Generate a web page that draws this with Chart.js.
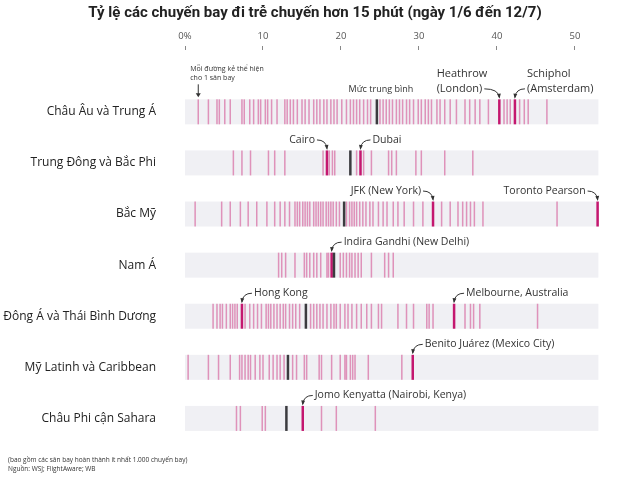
<!DOCTYPE html>
<html>
<head>
<meta charset="utf-8">
<script src="https://cdn.jsdelivr.net/npm/chart.js@4.4.0/dist/chart.umd.min.js"></script>
<style>
html, body { margin: 0; padding: 0; background: #fff; }
#wrap { position: relative; width: 630px; height: 482px; }
.note { position: absolute; left: 8px; font: 6.5px "Open Sans"; color: #333; white-space: nowrap; }
</style>
</head>
<body>
<div id="wrap">
  <canvas id="myChart" width="630" height="482"></canvas>
  <div class="note" style="top:455px">(bao gồm các sân bay hoàn thành ít nhất 1.000 chuyến bay)</div>
  <div class="note" style="top:464px">Nguồn: WSJ; FlightAware; WB</div>
</div>
<script>
const regions = [
    'Châu Âu và Trung Á',
    'Trung Đông và Bắc Phi',
    'Bắc Mỹ',
    'Nam Á',
    'Đông Á và Thái Bình Dương',
    'Mỹ Latinh và Caribbean',
    'Châu Phi cận Sahara',
]

// % chuyến bay trễ > 15 phút, mỗi số là 1 sân bay
const euValues = [1.7, 3.0, 4.1, 4.4, 5.1, 5.8, 7.3, 7.6, 8.3, 8.8, 9.4, 9.7, 10.3, 10.6, 11.1, 11.8, 12.8, 13.1, 13.5, 13.9, 14.4, 15.0, 15.4, 15.9, 16.5, 16.9, 17.3, 17.8, 18.2, 18.7, 19.1, 19.5, 20.1, 20.7, 21.2, 21.6, 22.0, 22.4, 22.9, 23.4, 23.8, 25.0, 25.4, 25.8, 26.2, 26.6, 27.1, 27.5, 27.9, 28.4, 28.8, 29.3, 29.9, 30.3, 30.8, 31.2, 31.6, 32.3, 32.7, 33.3, 34.0, 34.8, 35.9, 36.5, 37.2, 37.8, 38.9, 40.9, 41.3, 41.7, 42.9, 43.5, 44.0, 46.4]
const meValues = [6.2, 7.3, 8.4, 10.7, 11.5, 12.8, 17.7, 18.5, 18.9, 19.2, 22.0, 22.9, 23.9, 26.1, 26.5, 27.1, 29.6, 30.3, 33.3, 36.9]
const naValues = [1.3, 4.7, 5.8, 7.1, 8.1, 9.2, 10.5, 11.5, 12.2, 12.8, 13.4, 14.1, 14.4, 14.7, 15.1, 15.4, 15.7, 16.0, 16.5, 16.8, 17.1, 17.4, 17.7, 18.1, 18.4, 18.7, 19.0, 19.4, 19.8, 20.7, 21.1, 21.4, 21.7, 22.0, 22.4, 22.8, 23.2, 23.7, 24.1, 24.8, 25.4, 25.9, 26.7, 27.3, 28.1, 29.3, 30.5, 32.9, 34.0, 35.0, 35.6, 36.1, 36.6, 37.1, 38.2, 47.7]
const saValues = [12.0, 12.4, 12.9, 14.1, 15.3, 15.6, 16.0, 16.5, 16.9, 17.4, 18.2, 18.4, 19.9, 20.3, 20.7, 21.1, 21.4, 21.8, 22.2, 22.6, 23.9, 25.6, 26.1, 26.7]
const eaValues = [3.6, 4.1, 4.5, 4.8, 5.3, 5.8, 6.1, 6.4, 6.7, 7.7, 8.3, 8.8, 9.3, 9.8, 10.4, 10.7, 11.0, 11.4, 11.8, 12.2, 12.6, 12.9, 13.4, 13.8, 14.2, 14.7, 16.1, 16.5, 16.9, 17.3, 17.7, 18.2, 18.7, 19.1, 19.4, 19.9, 20.5, 20.9, 21.4, 22.0, 22.6, 23.3, 23.9, 24.8, 25.2, 27.3, 28.4, 29.3, 31.0, 31.3, 31.8, 35.9, 36.6, 37.0, 37.8, 45.2]
const laValues = [0.4, 3.0, 4.3, 5.8, 7.0, 7.3, 7.7, 8.1, 8.4, 9.0, 9.6, 10.0, 10.8, 11.3, 11.8, 12.2, 12.7, 13.8, 14.3, 15.3, 15.6, 17.2, 17.5, 18.8, 19.9, 20.5, 20.7, 21.2, 21.5, 21.8, 23.5, 27.8]
const afValues = [6.6, 7.1, 9.9, 10.3, 17.5, 19.4, 24.4]

const rowValues = [euValues, meValues, naValues, saValues, eaValues, laValues, afValues]
const meanValues = [24.6, 21.2, 20.4, 19.1, 15.5, 13.2, 13.0]

const hlRows = [0, 0, 1, 1, 2, 2, 3, 4, 4, 5, 6]
const hlValues = [40.3, 42.3, 18.2, 22.5, 31.8, 52.9, 18.8, 7.3, 34.5, 29.2, 15.1]
const hlNames = [
    ['Heathrow', '(London)'],
    ['Schiphol', '(Amsterdam)'],
    ['Cairo'],
    ['Dubai'],
    ['JFK (New York)'],
    ['Toronto Pearson'],
    ['Indira Gandhi (New Delhi)'],
    ['Hong Kong'],
    ['Melbourne, Australia'],
    ['Benito Juárez (Mexico City)'],
    ['Jomo Kenyatta (Nairobi, Kenya)'],
]
// chữ nằm bên trái hay bên phải mũi tên
const hlSide = ['left', 'right', 'left', 'right', 'left', 'left', 'right', 'right', 'right', 'right', 'right']

const xTicks = [0, 10, 20, 30, 40, 50]
const bandMax = 53

const airportPoints = []
rowValues.forEach((vals, i) => vals.forEach(v => airportPoints.push({x: v, y: i})))

const ROW_H = 25

// nền xám cho từng hàng
const bands = {
    id: 'bands',
    beforeDatasetsDraw(chart) {
        const {ctx, scales: {x, y}} = chart
        ctx.save()
        ctx.fillStyle = '#f0f0f4'
        const x0 = x.getPixelForValue(0)
        const x1 = x.getPixelForValue(bandMax)
        regions.forEach((r, i) => {
            const yc = y.getPixelForValue(i)
            ctx.fillRect(x0, yc - ROW_H / 2, x1 - x0, ROW_H)
        })
        ctx.restore()
    }
}

const arrow = (ctx, x0, y0, x1, y1, cx, cy) => {
    ctx.beginPath()
    ctx.moveTo(x0, y0)
    ctx.quadraticCurveTo(cx, cy, x1, y1)
    ctx.stroke()
    const a = Math.atan2(y1 - cy, x1 - cx)
    ctx.beginPath()
    ctx.moveTo(x1 + 1.5 * Math.cos(a), y1 + 1.5 * Math.sin(a))
    ctx.lineTo(x1 - 4 * Math.cos(a - 0.5), y1 - 4 * Math.sin(a - 0.5))
    ctx.lineTo(x1 - 4 * Math.cos(a + 0.5), y1 - 4 * Math.sin(a + 0.5))
    ctx.closePath()
    ctx.fill()
}

const annotations = {
    id: 'annotations',
    afterDatasetsDraw(chart) {
        const {ctx, scales: {x, y}} = chart
        ctx.save()
        ctx.strokeStyle = '#333'
        ctx.fillStyle = '#333'
        ctx.lineWidth = 1
        ctx.textBaseline = 'middle'

        // chú thích đầu tiên
        const fx = x.getPixelForValue(euValues[0])
        const ftop = y.getPixelForValue(0) - ROW_H / 2
        ctx.font = '7px "Open Sans"'
        ctx.textAlign = 'left'
        ctx.fillText('Mỗi đường kẻ thể hiện', fx - 8, ftop - 30)
        ctx.fillText('cho 1 sân bay', fx - 8, ftop - 21.5)
        ctx.beginPath()
        ctx.moveTo(fx, ftop - 15)
        ctx.lineTo(fx, ftop - 4)
        ctx.stroke()
        ctx.beginPath()
        ctx.moveTo(fx, ftop - 2)
        ctx.lineTo(fx - 2.5, ftop - 6)
        ctx.lineTo(fx + 2.5, ftop - 6)
        ctx.closePath()
        ctx.fill()

        ctx.font = '9px "Open Sans"'
        ctx.textAlign = 'center'
        ctx.fillText('Mức trung bình', x.getPixelForValue(meanValues[0]) + 4, ftop - 9.5)

        hlValues.forEach((v, i) => {
            const ax = x.getPixelForValue(v)
            const top = y.getPixelForValue(hlRows[i]) - ROW_H / 2
            const lines = hlNames[i]
            const ty = top - 10.5
            ctx.font = lines.length > 1 ? '11px "Open Sans"' : '10.5px "Open Sans"'
            const widths = lines.map(t => ctx.measureText(t).width)
            const last = widths[widths.length - 1]
            ctx.textAlign = 'left'
            let left
            if (hlSide[i] === 'left') {
                left = ax - 12 - (lines.length > 1 ? Math.max(...widths) : last)
            } else {
                left = ax + 12
            }
            lines.forEach((t, k) => ctx.fillText(t, left, ty - (lines.length - 1 - k) * 15))
            if (hlSide[i] === 'left') {
                arrow(ctx, left + last + 2, ty, ax, top - 2, ax - 1, ty)
            } else {
                arrow(ctx, left - 2, ty, ax, top - 2, ax + 1, ty)
            }
        })
        ctx.restore()
    }
}

const lineStyle = {
    type: 'scatter',
    pointStyle: 'line',
    rotation: 90,
    radius: ROW_H / 2,
    hoverRadius: ROW_H / 2,
    clip: false,
}

const data = {
    datasets: [
        {
            ...lineStyle,
            label: 'Sân bay',
            data: airportPoints,
            borderWidth: 1.5,
            borderColor: 'rgba(206, 52, 128, 0.5)',
            order: 3,
        },
        {
            ...lineStyle,
            label: 'Sân bay nổi bật',
            data: hlValues.map((v, i) => ({x: v, y: hlRows[i]})),
            borderWidth: 2.5,
            borderColor: '#c4176f',
            order: 2,
        },
        {
            ...lineStyle,
            label: 'Mức trung bình',
            data: meanValues.map((v, i) => ({x: v, y: i})),
            borderWidth: 2.5,
            borderColor: '#3b3b3f',
            order: 1,
        },
    ]
}

const config = {
    type: 'scatter',
    data: data,
    plugins: [bands, annotations],
    options: {
        responsive: false,
        animation: false,
        events: [],
        layout: {padding: {left: 0, right: 0, top: 0, bottom: 37}},
        plugins: {
            legend: {display: false},
            tooltip: {enabled: false},
            title: {
                display: true,
                text: 'Tỷ lệ các chuyến bay đi trễ chuyến hơn 15 phút (ngày 1/6 đến 12/7)',
                color: '#222',
                font: {family: 'Roboto', size: 15, weight: 'bold'},
                padding: {top: 4, bottom: 0},
            },
        },
        scales: {
            x: {
                type: 'linear',
                position: 'top',
                min: 0,
                max: 55.13,
                afterBuildTicks: s => { s.ticks = xTicks.map(v => ({value: v})) },
                afterFit: s => { s.height = 28 },
                ticks: {
                    padding: 4,
                    color: '#555',
                    font: {family: 'Open Sans', size: 9.5},
                    callback: v => v === 0 ? '0%' : v,
                },
                grid: {drawOnChartArea: false, drawTicks: true, tickLength: 4, color: '#888'},
                border: {display: false},
            },
            y: {
                type: 'linear',
                reverse: true,
                min: -1.21,
                max: 6.52,
                afterBuildTicks: s => { s.ticks = regions.map((r, i) => ({value: i})) },
                afterFit: s => { s.width = 185 },
                ticks: {
                    padding: 21,
                    color: '#222',
                    font: {family: 'Open Sans', size: 12},
                    callback: v => regions[v],
                },
                grid: {display: false},
                border: {display: false},
            },
        },
    },
}

const myChart = new Chart(document.getElementById('myChart'), config)
</script>
</body>
</html>
